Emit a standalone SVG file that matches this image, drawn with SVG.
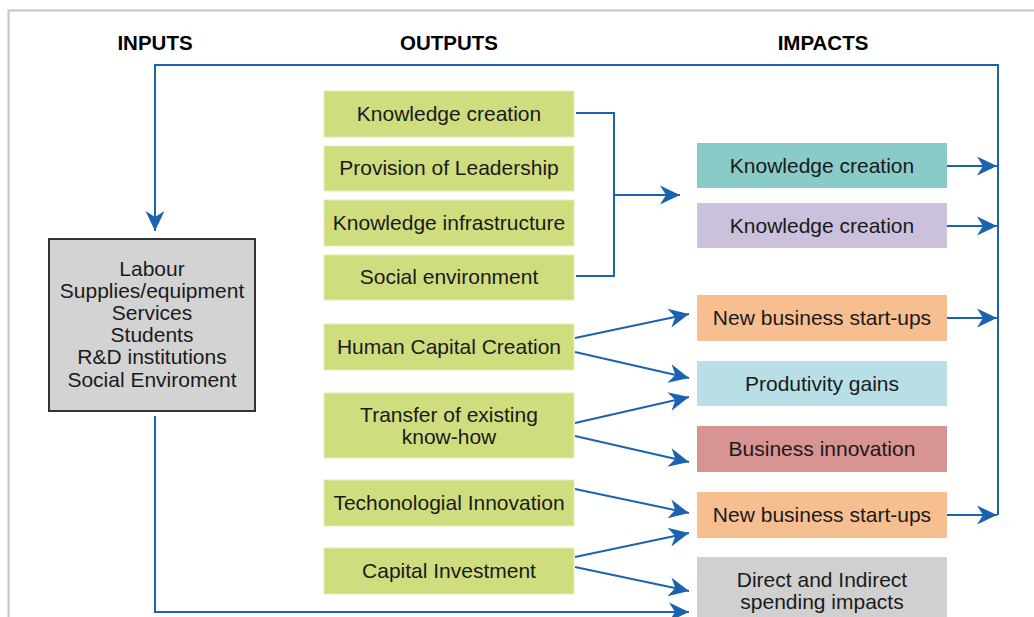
<svg xmlns="http://www.w3.org/2000/svg" width="1034" height="617" viewBox="0 0 1034 617">
<style>
text{font-family:"Liberation Sans",Arial,sans-serif;fill:#1a1a1a;}
.hdr{font-size:20.5px;font-weight:bold;text-anchor:middle;fill:#000;}
.lbl{font-size:21px;text-anchor:middle;}
.out{fill:#cfdd7f;stroke:#e4ecb4;stroke-width:1;}
.con{fill:none;stroke:#1a63b0;stroke-width:2;}
</style>
<defs>
<marker id="arr" markerUnits="userSpaceOnUse" markerWidth="24" markerHeight="24" viewBox="-22 -11 24 22" refX="0" refY="0" orient="auto">
<path d="M0,0 L-20,-9.5 L-14,0 L-20,9.5 Z" fill="#1a63b0"/>
</marker>
</defs>
<rect width="1034" height="617" fill="#fff"/>
<path d="M8.5,617 V10.5 H1034" fill="none" stroke="#c4c4c4" stroke-width="2"/>
<g id="headers">
<text class="hdr" x="155" y="50">INPUTS</text>
<text class="hdr" x="449" y="50">OUTPUTS</text>
<text class="hdr" x="823" y="50">IMPACTS</text>
</g>
<g id="connectors">
<path class="con" d="M998,515 V65 H155 V231" marker-end="url(#arr)"/>
<path class="con" d="M155,416 V612 H689" marker-end="url(#arr)"/>
<path class="con" d="M576,113 H614 V276 H576"/>
<path class="con" d="M614,195 H680" marker-end="url(#arr)"/>
<path class="con" d="M947,166 H997" marker-end="url(#arr)"/>
<path class="con" d="M947,226 H997" marker-end="url(#arr)"/>
<path class="con" d="M947,318 H997" marker-end="url(#arr)"/>
<path class="con" d="M947,515 H997" marker-end="url(#arr)"/>
<path class="con" d="M575,338 L689,314" marker-end="url(#arr)"/>
<path class="con" d="M575,352 L689,378" marker-end="url(#arr)"/>
<path class="con" d="M575,423 L689,397" marker-end="url(#arr)"/>
<path class="con" d="M575,436 L689,462" marker-end="url(#arr)"/>
<path class="con" d="M575,489 L689,513" marker-end="url(#arr)"/>
<path class="con" d="M575,557 L689,533" marker-end="url(#arr)"/>
<path class="con" d="M575,567 L689,591" marker-end="url(#arr)"/>
</g>
<g id="inputs">
<rect x="49" y="239" width="206" height="172" fill="#d3d3d3" stroke="#333" stroke-width="2"/>
<text class="lbl" x="152" y="276">Labour</text>
<text class="lbl" x="152" y="298">Supplies/equipment</text>
<text class="lbl" x="152" y="320">Services</text>
<text class="lbl" x="152" y="342">Students</text>
<text class="lbl" x="152" y="364">R&amp;D institutions</text>
<text class="lbl" x="152" y="387">Social Enviroment</text>
</g>
<g id="out-knowledge-creation"><rect class="out" x="324" y="91" width="250" height="46"/><text class="lbl" x="449" y="121">Knowledge creation</text></g>
<g id="out-leadership"><rect class="out" x="324" y="146" width="250" height="45"/><text class="lbl" x="449" y="175">Provision of Leadership</text></g>
<g id="out-infrastructure"><rect class="out" x="324" y="200" width="250" height="46"/><text class="lbl" x="449" y="230">Knowledge infrastructure</text></g>
<g id="out-social"><rect class="out" x="324" y="255" width="250" height="45"/><text class="lbl" x="449" y="284">Social environment</text></g>
<g id="out-human-capital"><rect class="out" x="324" y="324" width="250" height="46"/><text class="lbl" x="449" y="354">Human Capital Creation</text></g>
<g id="out-transfer"><rect class="out" x="324" y="393" width="250" height="65"/><text class="lbl" x="449" y="422">Transfer of existing</text><text class="lbl" x="449" y="444">know-how</text></g>
<g id="out-tech"><rect class="out" x="324" y="480" width="250" height="46"/><text class="lbl" x="449" y="510">Techonologial Innovation</text></g>
<g id="out-capital"><rect class="out" x="324" y="548" width="250" height="46"/><text class="lbl" x="449" y="578">Capital Investment</text></g>
<g id="imp-knowledge-1"><rect x="697" y="143" width="250" height="45" fill="#88cbc9"/><text class="lbl" x="822" y="173">Knowledge creation</text></g>
<g id="imp-knowledge-2"><rect x="697" y="203" width="250" height="45" fill="#cbc1dc"/><text class="lbl" x="822" y="233">Knowledge creation</text></g>
<g id="imp-startups-1"><rect x="697" y="295" width="250" height="46" fill="#f7bf8f"/><text class="lbl" x="822" y="325">New business start-ups</text></g>
<g id="imp-productivity"><rect x="697" y="361" width="250" height="45" fill="#b8dfe6"/><text class="lbl" x="822" y="391">Produtivity gains</text></g>
<g id="imp-innovation"><rect x="697" y="426" width="250" height="46" fill="#d89492"/><text class="lbl" x="822" y="456">Business innovation</text></g>
<g id="imp-startups-2"><rect x="697" y="492" width="250" height="46" fill="#f7bf8f"/><text class="lbl" x="822" y="522">New business start-ups</text></g>
<g id="imp-spending"><rect x="697" y="557" width="250" height="62" fill="#d0d0d0"/><text class="lbl" x="822" y="587">Direct and Indirect</text><text class="lbl" x="822" y="609">spending impacts</text></g>
</svg>
